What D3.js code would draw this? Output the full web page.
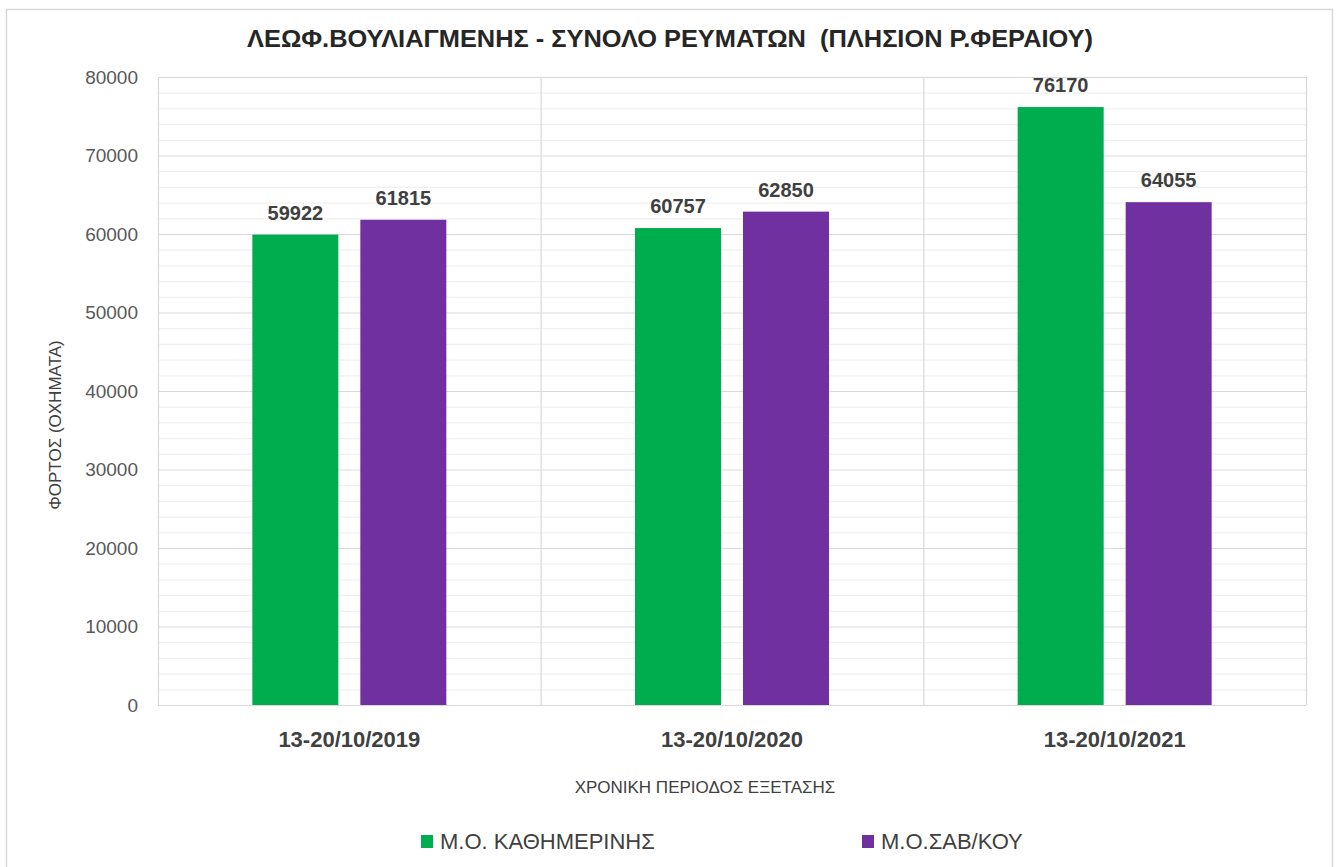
<!DOCTYPE html>
<html>
<head>
<meta charset="utf-8">
<script src="https://cdn.jsdelivr.net/npm/d3@7"></script>
<style>
  html, body { margin: 0; padding: 0; background: #fff; }
  svg { display: block; font-family: "Liberation Sans", Arial, sans-serif; }
</style>
</head>
<body>
<svg id="chart" width="1336" height="867"></svg>
<script>
// Traffic volumes per survey period
const categories = ["13-20/10/2019", "13-20/10/2020", "13-20/10/2021"];
const seriesNames = ["Μ.Ο. ΚΑΘΗΜΕΡΙΝΗΣ", "Μ.Ο.ΣΑΒ/ΚΟΥ"];
const weekdayValues = [59922, 60757, 76170];
const weekendValues = [61815, 62850, 64055];
const seriesColors = ["#00ad4e", "#7030a0"];
const yTicks = [0, 10000, 20000, 30000, 40000, 50000, 60000, 70000, 80000];

const title = "ΛΕΩΦ.ΒΟΥΛΙΑΓΜΕΝΗΣ - ΣΥΝΟΛΟ ΡΕΥΜΑΤΩΝ  (ΠΛΗΣΙΟΝ Ρ.ΦΕΡΑΙΟΥ)";
const yTitle = "ΦΟΡΤΟΣ (ΟΧΗΜΑΤΑ)";
const xTitle = "ΧΡΟΝΙΚΗ ΠΕΡΙΟΔΟΣ ΕΞΕΤΑΣΗΣ";

const series = [weekdayValues, weekendValues];
const rows = categories.map((c, i) => ({
  cat: c,
  values: series.map((s, k) => ({ key: k, value: s[i] }))
}));

const svg = d3.select("#chart");

// outer chart frame
svg.append("rect")
  .attr("x", 6.5).attr("y", 9.5)
  .attr("width", 1326).attr("height", 870)
  .attr("fill", "#fff").attr("stroke", "#d9d9d9").attr("stroke-width", 1.5);

const plot = { left: 158, right: 1306, top: 77, bottom: 705 };

const x = d3.scaleBand().domain(categories).range([plot.left, plot.right]).padding(0);
const y = d3.scaleLinear().domain([0, 80000]).range([plot.bottom, plot.top]);

// minor gridlines every 2000
const minor = d3.range(0, 80001, 2000).filter(v => v % 10000 !== 0);
svg.append("g").selectAll("line").data(minor).join("line")
  .attr("x1", plot.left).attr("x2", plot.right)
  .attr("y1", d => y(d) + 0.5).attr("y2", d => y(d) + 0.5)
  .attr("stroke", "#f0f0f0").attr("stroke-width", 1.2);

// major gridlines
svg.append("g").selectAll("line").data(yTicks).join("line")
  .attr("x1", plot.left).attr("x2", plot.right)
  .attr("y1", d => y(d) + 0.5).attr("y2", d => y(d) + 0.5)
  .attr("stroke", "#d9d9d9").attr("stroke-width", 1.2);

// vertical category separators and plot borders
const vlines = [plot.left, ...categories.slice(1).map(c => x(c)), plot.right];
svg.append("g").selectAll("line").data(vlines).join("line")
  .attr("x1", d => d + 0.5).attr("x2", d => d + 0.5)
  .attr("y1", plot.top).attr("y2", plot.bottom)
  .attr("stroke", "#d9d9d9").attr("stroke-width", 1.2);

// y axis labels
const yAxis = d3.axisLeft(y).tickValues(yTicks).tickSize(0).tickPadding(20).tickFormat(d3.format("d"));
const gy = svg.append("g").attr("transform", `translate(${plot.left},0)`).call(yAxis);
gy.select(".domain").remove();
gy.selectAll("text")
  .attr("font-size", 19).attr("fill", "#595959")
  .attr("font-family", "'Liberation Sans', Arial, sans-serif");

// x axis category labels
const xAxis = d3.axisBottom(x).tickSize(0).tickPadding(0);
const gx = svg.append("g").attr("transform", `translate(0,${plot.bottom})`).call(xAxis);
gx.select(".domain").remove();
gx.selectAll("text")
  .attr("y", 42).attr("dy", null)
  .attr("font-size", 22).attr("font-weight", "bold").attr("fill", "#404040")
  .attr("font-family", "'Liberation Sans', Arial, sans-serif");

// bars
const bandW = x.bandwidth();
const barW = 86, gap = 22;
const inner = d3.scaleOrdinal().domain([0, 1])
  .range([bandW / 2 - gap / 2 - barW, bandW / 2 + gap / 2]);

const groups = svg.append("g").selectAll("g").data(rows).join("g")
  .attr("transform", d => `translate(${x(d.cat)},0)`);

groups.selectAll("rect").data(d => d.values).join("rect")
  .attr("x", d => inner(d.key))
  .attr("y", d => y(d.value))
  .attr("width", barW)
  .attr("height", d => y(0) - y(d.value))
  .attr("fill", d => seriesColors[d.key]);

groups.selectAll("text").data(d => d.values).join("text")
  .attr("x", d => inner(d.key) + barW / 2)
  .attr("y", d => y(d.value) - 15)
  .attr("text-anchor", "middle")
  .attr("font-size", 20).attr("font-weight", "bold").attr("fill", "#404040")
  .text(d => d.value);

// title
svg.append("text")
  .attr("x", 670).attr("y", 47)
  .attr("text-anchor", "middle")
  .attr("font-size", 23).attr("font-weight", "bold").attr("fill", "#262626")
  .attr("textLength", 846).attr("lengthAdjust", "spacingAndGlyphs")
  .style("white-space", "pre")
  .text(title);

// axis titles
svg.append("text")
  .attr("transform", "translate(61,425) rotate(-90)")
  .attr("text-anchor", "middle")
  .attr("font-size", 17).attr("fill", "#404040")
  .text(yTitle);

svg.append("text")
  .attr("x", 705).attr("y", 793)
  .attr("text-anchor", "middle")
  .attr("font-size", 17).attr("fill", "#404040")
  .text(xTitle);

// legend
const legendX = [421, 862];
const lg = svg.append("g").selectAll("g").data(seriesNames).join("g")
  .attr("transform", (d, i) => `translate(${legendX[i]},835)`);
lg.append("rect").attr("x", 0).attr("y", 0).attr("width", 12).attr("height", 13)
  .attr("fill", (d, i) => seriesColors[i]);
lg.append("text").attr("x", 19).attr("y", 14)
  .attr("font-size", 22).attr("fill", "#404040")
  .text(d => d);
</script>
</body>
</html>
